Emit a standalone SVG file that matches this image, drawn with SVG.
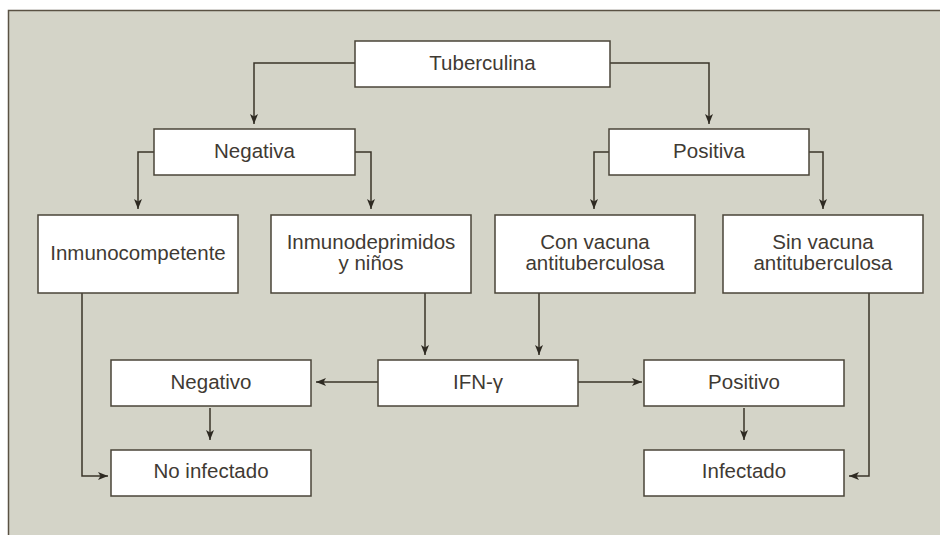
<svg xmlns="http://www.w3.org/2000/svg" width="940" height="535" viewBox="0 0 940 535">
<style>
.box{fill:#ffffff;stroke:#4a4438;stroke-width:1.5}
.lbl{font-family:"Liberation Sans",Arial,sans-serif;font-size:20.5px;fill:#3f3a33;text-anchor:middle}
.con{fill:none;stroke:#3a3428;stroke-width:1.5}
</style>
<defs>
<marker id="ah" viewBox="0 0 10 8" refX="10" refY="4" markerWidth="10" markerHeight="8" markerUnits="userSpaceOnUse" orient="auto">
<path d="M0,0 L10,4 L0,8 L2.5,4 z" fill="#2e2a22"/>
</marker>
</defs>
<rect x="0" y="0" width="940" height="535" fill="#ffffff"/>
<rect x="8.5" y="10.5" width="940" height="540" fill="#d4d4c8" stroke="#5a5244" stroke-width="1.5"/>
<g id="connectors">
<path class="con" marker-end="url(#ah)" d="M355,63 H254 V124"/>
<path class="con" marker-end="url(#ah)" d="M610,63 H709 V124"/>
<path class="con" marker-end="url(#ah)" d="M154,152 H138 V209"/>
<path class="con" marker-end="url(#ah)" d="M355,152 H371 V209"/>
<path class="con" marker-end="url(#ah)" d="M609,152 H594 V209"/>
<path class="con" marker-end="url(#ah)" d="M809,152 H823 V209"/>
<path class="con" marker-end="url(#ah)" d="M425,293 V355"/>
<path class="con" marker-end="url(#ah)" d="M539,293 V355"/>
<path class="con" marker-end="url(#ah)" d="M378,382 H316"/>
<path class="con" marker-end="url(#ah)" d="M578,382 H642"/>
<path class="con" marker-end="url(#ah)" d="M210,408 V440"/>
<path class="con" marker-end="url(#ah)" d="M744,408 V440"/>
<path class="con" marker-end="url(#ah)" d="M82,293 V476 H108"/>
<path class="con" marker-end="url(#ah)" d="M869,293 V476 H849"/>
</g>
<g id="tuberculina"><rect class="box" x="355" y="41" width="255" height="46"/><text class="lbl" x="482.5" y="70">Tuberculina</text></g>
<g id="negativa"><rect class="box" x="154" y="129" width="201" height="46"/><text class="lbl" x="254.5" y="158">Negativa</text></g>
<g id="positiva"><rect class="box" x="609" y="129" width="200" height="46"/><text class="lbl" x="709" y="158">Positiva</text></g>
<g id="inmunocompetente"><rect class="box" x="38" y="215" width="200" height="78"/><text class="lbl" x="138" y="260">Inmunocompetente</text></g>
<g id="inmunodeprimidos"><rect class="box" x="271" y="215" width="200" height="78"/><text class="lbl" x="371" y="248.5">Inmunodeprimidos</text><text class="lbl" x="371" y="270">y niños</text></g>
<g id="con-vacuna"><rect class="box" x="495" y="215" width="200" height="78"/><text class="lbl" x="595" y="248.5">Con vacuna</text><text class="lbl" x="595" y="270">antituberculosa</text></g>
<g id="sin-vacuna"><rect class="box" x="723" y="215" width="200" height="78"/><text class="lbl" x="823" y="248.5">Sin vacuna</text><text class="lbl" x="823" y="270">antituberculosa</text></g>
<g id="negativo"><rect class="box" x="111" y="360" width="200" height="46"/><text class="lbl" x="211" y="388.5">Negativo</text></g>
<g id="ifn"><rect class="box" x="378" y="360" width="200" height="46"/><text class="lbl" x="478" y="388.5">IFN-γ</text></g>
<g id="positivo"><rect class="box" x="644" y="360" width="200" height="46"/><text class="lbl" x="744" y="388.5">Positivo</text></g>
<g id="no-infectado"><rect class="box" x="111" y="450" width="200" height="46"/><text class="lbl" x="211" y="478">No infectado</text></g>
<g id="infectado"><rect class="box" x="644" y="450" width="200" height="46"/><text class="lbl" x="744" y="478">Infectado</text></g>
</svg>
